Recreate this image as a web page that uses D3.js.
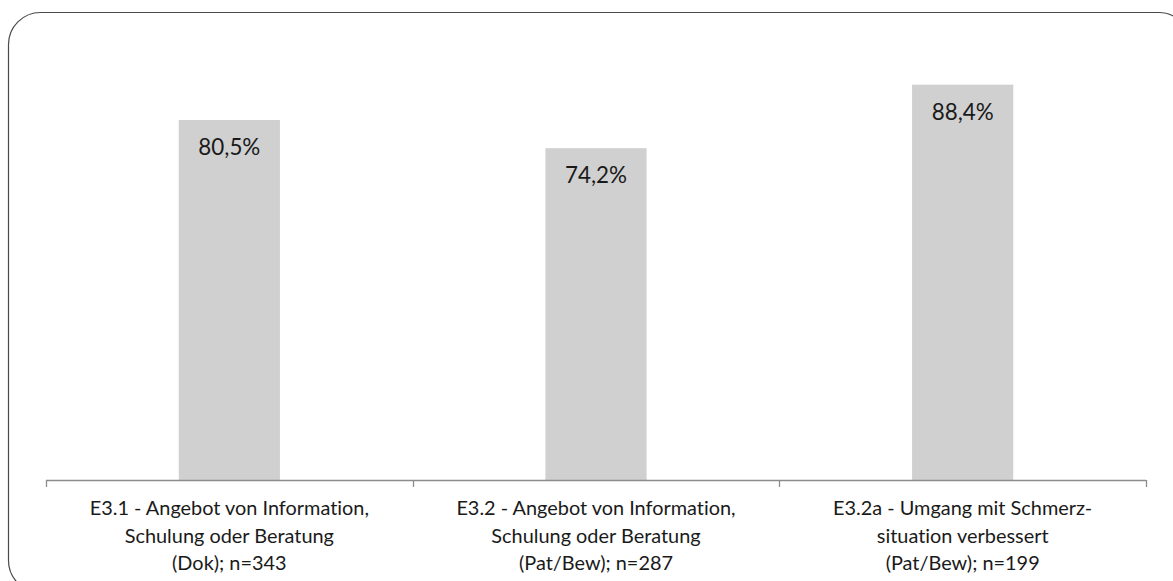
<!DOCTYPE html>
<html>
<head>
<meta charset="utf-8">
<script src="https://cdn.jsdelivr.net/npm/d3@7"></script>
<style>
  html, body { margin: 0; padding: 0; background: #fff; }
  svg { display: block; }
  text { font-family: Lato, "Open Sans", sans-serif; fill: #1a1a1a; font-variant-ligatures: none; }
</style>
</head>
<body>
<svg id="chart" width="1173" height="581"></svg>
<script>
// Anteile je Kriterium (Prozent)
const categories = ["E3.1", "E3.2", "E3.2a"];
const categoryLines = [
  ["E3.1 - Angebot von Information,", "Schulung oder Beratung", "(Dok); n=343"],
  ["E3.2 - Angebot von Information,", "Schulung oder Beratung", "(Pat/Bew); n=287"],
  ["E3.2a - Umgang mit Schmerz-", "situation verbessert", "(Pat/Bew); n=199"]
];
const values = [80.5, 74.2, 88.4];
const valueLabels = ["80,5%", "74,2%", "88,4%"];

const svg = d3.select("#chart");

// Rahmen mit abgerundeten Ecken
svg.append("rect")
  .attr("x", 8.5).attr("y", 12.5)
  .attr("width", 1182).attr("height", 580)
  .attr("rx", 32).attr("ry", 32)
  .attr("fill", "none")
  .attr("stroke", "#4a4a4a")
  .attr("stroke-width", 1.2);

const x = d3.scaleBand().domain(categories).range([46, 1146]).padding(0);
const y = d3.scaleLinear().domain([0, 100]).range([480, 32.8]);
const barW = x.bandwidth() * 0.276;

const g = svg.append("g");

g.selectAll("rect.bar")
  .data(values)
  .join("rect")
  .attr("class", "bar")
  .attr("x", (d, i) => x(categories[i]) + x.bandwidth() / 2 - barW / 2)
  .attr("y", d => y(d))
  .attr("width", barW)
  .attr("height", d => y(0) - y(d))
  .attr("fill", "#d0d0d0");

g.selectAll("text.val")
  .data(values)
  .join("text")
  .attr("class", "val")
  .attr("x", (d, i) => x(categories[i]) + x.bandwidth() / 2)
  .attr("y", d => y(d) + 35)
  .attr("text-anchor", "middle")
  .attr("font-size", 22.4)
  .text((d, i) => valueLabels[i]);

// Kategorienachse mit Teilstrichen zwischen den Kategorien
const axisG = svg.append("g").attr("transform", `translate(0,${y(0)})`);
axisG.append("line")
  .attr("x1", x.range()[0]).attr("x2", x.range()[1])
  .attr("y1", 0.5).attr("y2", 0.5)
  .attr("stroke", "#8c8c8c").attr("stroke-width", 1.3);
const boundaries = categories.map(c => x(c)).concat([x.range()[1]]);
axisG.selectAll("line.tick")
  .data(boundaries)
  .join("line")
  .attr("class", "tick")
  .attr("x1", d => Math.round(d) + 0.5).attr("x2", d => Math.round(d) + 0.5)
  .attr("y1", 0).attr("y2", 7)
  .attr("stroke", "#8c8c8c").attr("stroke-width", 1.3);

const lineY = [515, 543, 570];
categoryLines.forEach((lines, i) => {
  const t = axisG.append("text")
    .attr("text-anchor", "middle")
    .attr("font-size", 19.9);
  lines.forEach((ln, j) => {
    t.append("tspan")
      .attr("x", x(categories[i]) + x.bandwidth() / 2)
      .attr("y", lineY[j] - y(0))
      .text(ln);
  });
});
</script>
</body>
</html>
